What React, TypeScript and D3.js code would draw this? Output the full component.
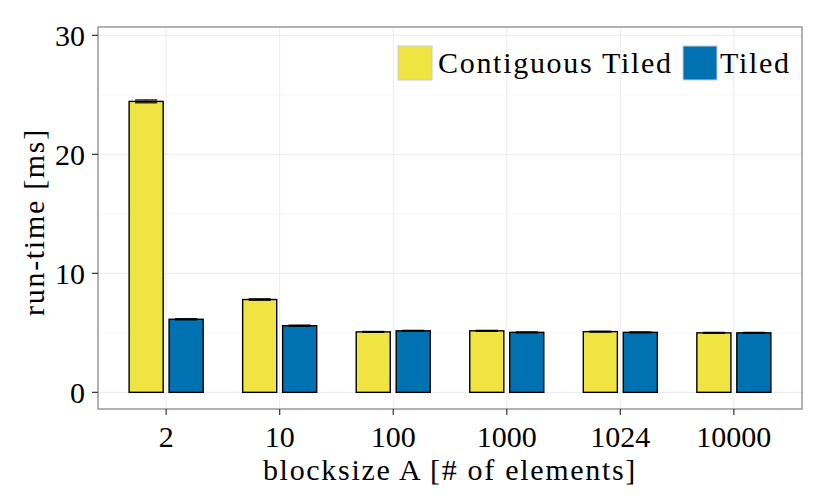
import React from "react";
import * as d3 from "d3";

const categories = ["2", "10", "100", "1000", "1024", "10000"];
const seriesNames = ["Contiguous Tiled", "Tiled"];
const contiguousTiled = [24.45, 7.8, 5.08, 5.17, 5.1, 5.0];
const tiled = [6.14, 5.6, 5.17, 5.04, 5.04, 5.0];
const contiguousErr = [0.12, 0.06, 0.04, 0.04, 0.04, 0.04];
const tiledErr = [0.05, 0.05, 0.04, 0.04, 0.04, 0.04];
const yTicks = [0, 10, 20, 30];
const yMinor = [5, 15, 25];
const colors = ["#F0E442", "#0072B2"];

const W = 830;
const H = 498;
const panel = { left: 98, right: 802, top: 27, bottom: 409 };
const font = "'Liberation Serif', serif";
const fs = 30;
const spacing = 1.7;

const App: React.FC = () => {
  const x = d3
    .scalePoint<string>()
    .domain(categories)
    .range([panel.left, panel.right])
    .padding(0.6);
  const step = x.step();
  const y = d3.scaleLinear().domain([-1.4, 30.7]).range([panel.bottom, panel.top]);

  const barW = step * 0.3;
  const offset = step * 0.176;
  const errW = barW * 0.65;
  const series = [contiguousTiled, tiled];
  const errs = [contiguousErr, tiledErr];

  return (
    <svg width={W} height={H} style={{ position: "absolute", left: 0, top: 0 }}>
      <rect x={0} y={0} width={W} height={H} fill="#fff" />
      {/* grid */}
      {yMinor.map((v) => (
        <line key={"mn" + v} x1={panel.left} x2={panel.right} y1={y(v)} y2={y(v)} stroke="#f5f5f5" strokeWidth={0.8} />
      ))}
      {yTicks.map((v) => (
        <line key={"mj" + v} x1={panel.left} x2={panel.right} y1={y(v)} y2={y(v)} stroke="#ebebeb" strokeWidth={1} />
      ))}
      {categories.map((c) => (
        <line key={"vx" + c} x1={x(c)} x2={x(c)} y1={panel.top} y2={panel.bottom} stroke="#ebebeb" strokeWidth={1} />
      ))}
      {/* bars */}
      {series.map((vals, si) =>
        vals.map((v, i) => {
          const cx = (x(categories[i]) as number) + (si === 0 ? -offset : offset);
          return (
            <rect
              key={"b" + si + i}
              x={cx - barW / 2}
              y={y(v)}
              width={barW}
              height={y(0) - y(v)}
              fill={colors[si]}
              stroke="#000"
              strokeWidth={1.4}
            />
          );
        })
      )}
      {/* error bars */}
      {series.map((vals, si) =>
        vals.map((v, i) => {
          const cx = (x(categories[i]) as number) + (si === 0 ? -offset : offset);
          const e = errs[si][i];
          return (
            <g key={"e" + si + i} stroke="#000" strokeWidth={1.2}>
              <line x1={cx - errW / 2} x2={cx + errW / 2} y1={y(v + e)} y2={y(v + e)} />
              <line x1={cx - errW / 2} x2={cx + errW / 2} y1={y(v - e)} y2={y(v - e)} />
              <line x1={cx} x2={cx} y1={y(v + e)} y2={y(v - e)} />
            </g>
          );
        })
      )}
      {/* panel border */}
      <rect
        x={panel.left}
        y={panel.top}
        width={panel.right - panel.left}
        height={panel.bottom - panel.top}
        fill="none"
        stroke="#7f7f7f"
        strokeWidth={1.2}
      />
      {/* y axis */}
      {yTicks.map((v) => (
        <g key={"yt" + v}>
          <line x1={panel.left - 6} x2={panel.left} y1={y(v)} y2={y(v)} stroke="#333" strokeWidth={1.2} />
          <text x={panel.left - 13} y={y(v)} dy="0.34em" textAnchor="end" fontFamily={font} fontSize={fs} fill="#000">
            {v}
          </text>
        </g>
      ))}
      {/* x axis */}
      {categories.map((c) => (
        <g key={"xt" + c}>
          <line x1={x(c)} x2={x(c)} y1={panel.bottom} y2={panel.bottom + 6} stroke="#333" strokeWidth={1.2} />
          <text x={x(c)} y={447} textAnchor="middle" fontFamily={font} fontSize={fs} fill="#000">
            {c}
          </text>
        </g>
      ))}
      <text
        x={450}
        y={480}
        textAnchor="middle"
        fontFamily={font}
        fontSize={fs}
        letterSpacing={spacing}
        fill="#000"
      >
        blocksize A [# of elements]
      </text>
      <text
        transform={`translate(44, 222) rotate(-90)`}
        textAnchor="middle"
        fontFamily={font}
        fontSize={fs}
        letterSpacing={spacing}
        fill="#000"
      >
        run-time [ms]
      </text>
      {/* legend */}
      <g>
        <rect x={398} y={46} width={34} height={34} fill={colors[0]} stroke="#cccccc" strokeWidth={1} />
        <text x={438} y={63} dy="0.34em" fontFamily={font} fontSize={fs} letterSpacing={spacing} fill="#000">
          {seriesNames[0]}
        </text>
        <rect x={683} y={46} width={34} height={34} fill={colors[1]} stroke="#cccccc" strokeWidth={1} />
        <text x={720} y={63} dy="0.34em" fontFamily={font} fontSize={fs} letterSpacing={spacing} fill="#000">
          {seriesNames[1]}
        </text>
      </g>
    </svg>
  );
};

export default App;
